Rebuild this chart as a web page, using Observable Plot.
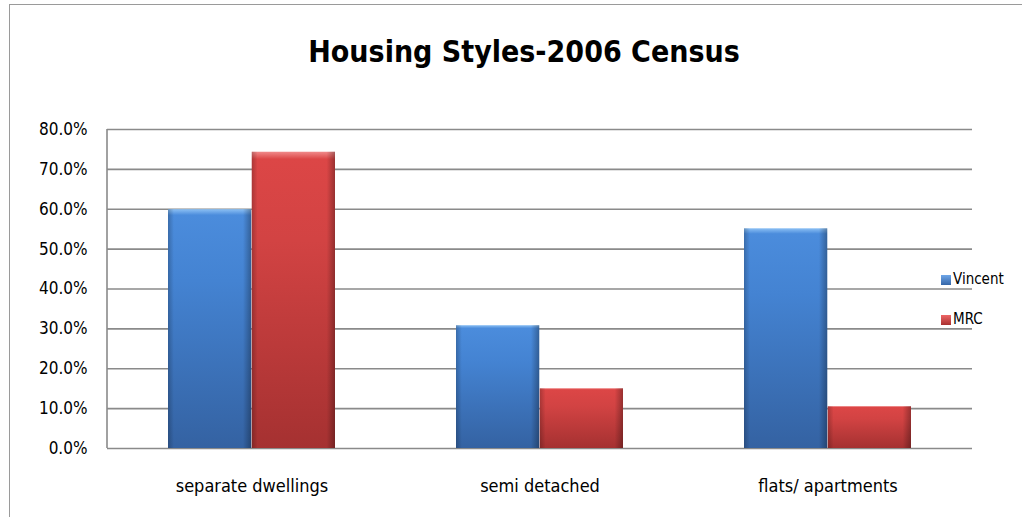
<!DOCTYPE html>
<html><head><meta charset="utf-8">
<script src="https://cdn.jsdelivr.net/npm/d3@7"></script>
<script src="https://cdn.jsdelivr.net/npm/@observablehq/plot@0.6"></script>
<style>
body{margin:0;background:#fff;}
#wrap{position:relative;width:1022px;height:517px;overflow:hidden;font-family:"DejaVu Sans Condensed","DejaVu Sans",sans-serif;font-stretch:condensed;color:#000;}
#frame{position:absolute;left:9px;top:4px;width:1040px;height:540px;border:1px solid #9a9a9a;}
#title{position:absolute;left:0;width:1048px;top:34px;text-align:center;font-weight:bold;font-size:30px;}
#chart{position:absolute;left:0;top:0;}
.leg{position:absolute;left:941px;font-size:15px;line-height:16px;}
.leg span.sw{display:inline-block;width:10px;height:10px;margin-right:2px;vertical-align:-1px;}
</style></head>
<body><div id="wrap"><div id="frame"></div><div id="chart"></div><div id="title">Housing Styles-2006 Census</div>
<div class="leg" style="top:271px"><span class="sw" style="background:linear-gradient(#6ea6e8,#3566a8)"></span>Vincent</div>
<div class="leg" style="top:311px"><span class="sw" style="background:linear-gradient(#e66,#a83030)"></span>MRC</div>
</div>
<script>
const categories = ["separate dwellings", "semi detached", "flats/ apartments"];
const seriesNames = ["Vincent", "MRC"];
const vincent = [0.599, 0.308, 0.551];
const mrc = [0.743, 0.150, 0.105];
const yTicks = [0, 0.1, 0.2, 0.3, 0.4, 0.5, 0.6, 0.7, 0.8];

const rows = categories.flatMap((c, i) => [
  {category: c, series: seriesNames[0], value: vincent[i]},
  {category: c, series: seriesNames[1], value: mrc[i]}
]);

const W = 1022, H = 517, mL = 107, mR = 50, mT = 129, mB = 69;
const xOpts = {domain: categories, paddingInner: 0.419, paddingOuter: 0.2095};
// half of the library's band width: each category band holds two bars side by side
const half = Plot.scale({x: {type: "band", ...xOpts, range: [mL, W - mR]}}).bandwidth / 2;

const chart = Plot.plot({
  width: W, height: H,
  marginLeft: mL, marginRight: mR, marginTop: mT, marginBottom: mB,
  style: {fontFamily: "'DejaVu Sans Condensed','DejaVu Sans',sans-serif", fontSize: "17px", color: "#000", background: "transparent", fontStretch: "condensed"},
  x: {...xOpts, label: null},
  y: {domain: [0, 0.8], label: null},
  marks: [
    Plot.ruleY(yTicks, {stroke: "#8a8a8a", strokeWidth: 1.6}),
    Plot.barY(rows.filter(d => d.series === "Vincent"), {x: "category", y: "value", fill: "url(#gBlue)", insetRight: half}),
    Plot.barY(rows.filter(d => d.series === "MRC"), {x: "category", y: "value", fill: "url(#gRed)", insetLeft: half}),
    Plot.barY(rows.filter(d => d.series === "Vincent"), {x: "category", y: "value", fill: "url(#gShade)", insetRight: half}),
    Plot.barY(rows.filter(d => d.series === "MRC"), {x: "category", y: "value", fill: "url(#gShade)", insetLeft: half}),
    Plot.axisX({tickSize: 0, tickPadding: 31, fontSize: 18, label: null}),
    Plot.axisY({ticks: yTicks, tickFormat: d3.format(".1%"), tickSize: 0, tickPadding: 20, fontSize: 17, label: null})
  ]
});
const svg = d3.select(chart);
const defs = svg.insert("defs", ":first-child");
function vgrad(id, stops) {
  const g = defs.append("linearGradient").attr("id", id).attr("x1", 0).attr("y1", 0).attr("x2", 0).attr("y2", 1);
  stops.forEach(([o, c]) => g.append("stop").attr("offset", o).attr("stop-color", c));
}
vgrad("gBlue", [[0, "#8cc0f4"], [0.025, "#4b8cdc"], [0.3, "#4483d2"], [1, "#3462a2"]]);
vgrad("gRed", [[0, "#f08a8a"], [0.025, "#dc4646"], [0.3, "#d24343"], [1, "#a53131"]]);
const h = defs.append("linearGradient").attr("id", "gShade").attr("x1", 0).attr("y1", 0).attr("x2", 1).attr("y2", 0);
[[0, "rgba(0,0,0,0.22)"], [0.07, "rgba(0,0,0,0)"], [0.9, "rgba(0,0,0,0)"], [1, "rgba(0,0,0,0.3)"]].forEach(([o, c]) => h.append("stop").attr("offset", o).attr("stop-color", c));
// vertical axis line along the left edge of the plot, from the y scale
const ys = chart.scale("y");
svg.append("line").attr("x1", mL).attr("x2", mL).attr("y1", ys.apply(0.8)).attr("y2", ys.apply(0)).attr("stroke", "#8a8a8a").attr("stroke-width", 1.6);
document.getElementById("chart").appendChild(chart);
</script>
</body></html>
